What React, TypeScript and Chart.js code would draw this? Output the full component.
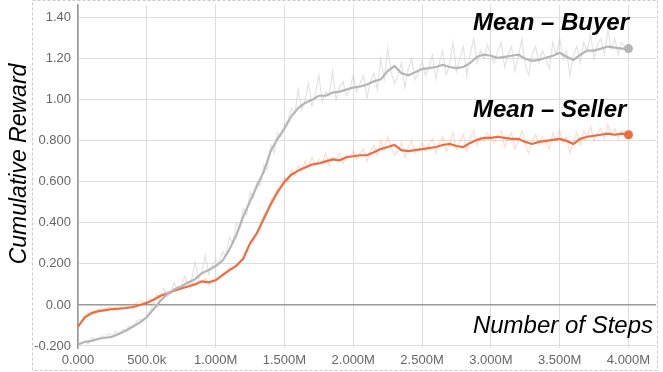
import React, { useEffect, useRef } from "react";
import { Chart, registerables } from "chart.js";

Chart.register(...registerables);

// x spacing of the recorded points (training steps)
const SMOOTH_STEP = 50000;
const RAW_STEP = 25000;

// smoothed means, one value every 50k steps from 0 to 4.0M
const BUYER_SMOOTH = [
  -0.193, -0.18, -0.175, -0.165, -0.16, -0.155, -0.14, -0.125, -0.105, -0.085,
  -0.06, -0.02, 0.02, 0.055, 0.075, 0.09, 0.11, 0.125, 0.155, 0.17,
  0.19, 0.215, 0.27, 0.34, 0.43, 0.505, 0.58, 0.65, 0.75, 0.81,
  0.86, 0.92, 0.96, 0.985, 1.0, 1.02, 1.02, 1.035, 1.04, 1.05,
  1.06, 1.065, 1.075, 1.09, 1.1, 1.14, 1.165, 1.13, 1.12, 1.135,
  1.15, 1.155, 1.16, 1.17, 1.16, 1.155, 1.16, 1.18, 1.21, 1.22,
  1.215, 1.205, 1.21, 1.215, 1.22, 1.2, 1.19, 1.195, 1.205, 1.215,
  1.23, 1.21, 1.195, 1.22, 1.24, 1.24, 1.25, 1.26, 1.255, 1.25,
  1.25,
];
const SELLER_SMOOTH = [
  -0.105, -0.06, -0.04, -0.03, -0.025, -0.02, -0.018, -0.015, -0.01, 0.0,
  0.01, 0.025, 0.045, 0.055, 0.07, 0.08, 0.09, 0.1, 0.115, 0.11,
  0.12, 0.145, 0.17, 0.19, 0.225, 0.3, 0.35, 0.42, 0.49, 0.55,
  0.6, 0.635, 0.655, 0.67, 0.685, 0.69, 0.7, 0.71, 0.705, 0.72,
  0.725, 0.73, 0.73, 0.745, 0.76, 0.77, 0.78, 0.755, 0.75, 0.755,
  0.76, 0.765, 0.77, 0.78, 0.785, 0.775, 0.77, 0.79, 0.805, 0.815,
  0.815, 0.82, 0.815, 0.81, 0.81, 0.795, 0.785, 0.795, 0.8, 0.805,
  0.81, 0.8, 0.785, 0.81, 0.82, 0.825, 0.83, 0.835, 0.83, 0.835,
  0.83,
];

// raw (unsmoothed) values, one every 25k steps from 0 to 4.0M
const BUYER_RAW = [
  -0.2, -0.19, -0.18, -0.19, -0.16, -0.17, -0.17, -0.15, -0.16, -0.14, -0.15, -0.13, -0.14, -0.12, -0.12, -0.1, -0.11, -0.08, -0.07, -0.08, -0.05,
  -0.03, 0.01, -0.01, 0.05, 0.08, 0.04, 0.06, 0.11, 0.07, 0.09, 0.14, 0.1, 0.12, 0.21, 0.13, 0.16, 0.24, 0.15, 0.19, 0.22,
  0.2, 0.26, 0.24, 0.33, 0.3, 0.4, 0.37, 0.47, 0.44, 0.55, 0.52, 0.6, 0.58, 0.68, 0.66, 0.78, 0.74, 0.84, 0.82, 0.88,
  0.9, 0.96, 0.93, 1.05, 0.95, 1.0, 1.08, 0.97, 1.03, 1.12, 0.99, 1.04, 1.02, 1.14, 1.0, 1.06, 1.09, 1.02, 1.05, 1.12,
  1.04, 1.08, 1.12, 1.01, 1.09, 1.13, 1.05, 1.2, 1.1, 1.25, 1.14, 1.08, 1.12, 1.18, 1.06, 1.15, 1.2, 1.1, 1.13, 1.19,
  1.12, 1.16, 1.22, 1.1, 1.18, 1.24, 1.12, 1.17, 1.28, 1.14, 1.2, 1.26, 1.12, 1.22, 1.3, 1.18, 1.24, 1.2, 1.27, 1.22,
  1.18, 1.24, 1.28, 1.16, 1.22, 1.26, 1.14, 1.21, 1.3, 1.17, 1.12, 1.22, 1.26, 1.18, 1.24, 1.2, 1.15, 1.28, 1.22, 1.3,
  1.2, 1.24, 1.12, 1.22, 1.26, 1.18, 1.28, 1.24, 1.32, 1.2, 1.27, 1.3, 1.22, 1.34, 1.25, 1.3, 1.22, 1.28, 1.26, 1.25,
];
const SELLER_RAW = [
  -0.12, -0.08, -0.05, -0.04, -0.03, -0.03, -0.02, -0.02, -0.02, -0.01, -0.02, -0.01, -0.01, 0.0, -0.01, 0.0, 0.0, 0.01, 0.02, 0.01, 0.02,
  0.03, 0.02, 0.05, 0.04, 0.06, 0.07, 0.06, 0.08, 0.09, 0.08, 0.1, 0.09, 0.11, 0.1, 0.12, 0.11, 0.13, 0.1, 0.12, 0.13,
  0.13, 0.15, 0.16, 0.18, 0.17, 0.2, 0.21, 0.23, 0.26, 0.3, 0.31, 0.36, 0.38, 0.44, 0.46, 0.51, 0.53, 0.57, 0.58, 0.62,
  0.6, 0.66, 0.63, 0.68, 0.65, 0.7, 0.67, 0.72, 0.68, 0.71, 0.69, 0.74, 0.68, 0.72, 0.71, 0.74, 0.69, 0.73, 0.72, 0.75,
  0.71, 0.74, 0.76, 0.7, 0.75, 0.78, 0.73, 0.8, 0.76, 0.82, 0.77, 0.73, 0.75, 0.79, 0.72, 0.77, 0.8, 0.74, 0.76, 0.79,
  0.75, 0.78, 0.81, 0.74, 0.79, 0.82, 0.75, 0.78, 0.84, 0.76, 0.8, 0.83, 0.75, 0.81, 0.85, 0.78, 0.82, 0.8, 0.84, 0.81,
  0.79, 0.83, 0.85, 0.77, 0.81, 0.84, 0.76, 0.8, 0.85, 0.78, 0.74, 0.8, 0.83, 0.78, 0.82, 0.8, 0.76, 0.84, 0.8, 0.85,
  0.79, 0.82, 0.74, 0.8, 0.84, 0.78, 0.85, 0.82, 0.87, 0.8, 0.84, 0.86, 0.81, 0.88, 0.83, 0.86, 0.81, 0.85, 0.84, 0.83,
];

// axis ticks
const X_TICKS = [0, 500000, 1000000, 1500000, 2000000, 2500000, 3000000, 3500000, 4000000];
const X_TICK_LABELS = ["0.000", "500.0k", "1.000M", "1.500M", "2.000M", "2.500M", "3.000M", "3.500M", "4.000M"];
const Y_TICKS = [-0.2, 0, 0.2, 0.4, 0.6, 0.8, 1.0, 1.2, 1.4];
const Y_TICK_LABELS = ["-0.200", "0.00", "0.200", "0.400", "0.600", "0.800", "1.00", "1.20", "1.40"];

const TITLE_Y = "Cumulative Reward";
const TITLE_X = "Number of Steps";
const LABEL_BUYER = "Mean \u2013 Buyer";
const LABEL_SELLER = "Mean \u2013 Seller";

const ORANGE = "#ef6c3c";
const ORANGE_LIGHT = "rgba(245, 140, 100, 0.3)";
const GRAY = "#b5b5b5";
const GRAY_LIGHT = "rgba(200, 200, 200, 0.5)";

const FONT = "'Liberation Sans', Arial, sans-serif";

const toPoints = (vals: number[], step: number) => vals.map((v, i) => ({ x: i * step, y: v }));

const annotate = {
  id: "annotate",
  afterDraw(chart: any) {
    const ctx = chart.ctx as CanvasRenderingContext2D;
    ctx.save();
    // dashed frame
    ctx.strokeStyle = "#c8c8c8";
    ctx.lineWidth = 1;
    ctx.setLineDash([3, 2]);
    ctx.strokeRect(32.5, 0.5, 625, 370);
    ctx.setLineDash([]);
    // y title
    ctx.fillStyle = "#000";
    ctx.font = `italic 23px ${FONT}`;
    ctx.textAlign = "center";
    ctx.textBaseline = "alphabetic";
    ctx.translate(26, 164);
    ctx.rotate(-Math.PI / 2);
    ctx.fillText(TITLE_Y, 0, 0);
    ctx.setTransform(1, 0, 0, 1, 0, 0);
    // x title
    ctx.font = `italic 24px ${FONT}`;
    ctx.textAlign = "right";
    ctx.fillText(TITLE_X, 653, 333);
    // series labels
    ctx.font = `italic bold 24px ${FONT}`;
    ctx.textAlign = "left";
    ctx.fillText(LABEL_BUYER, 473, 30);
    ctx.fillText(LABEL_SELLER, 473, 117);
    ctx.restore();
  },
};

export default function App() {
  const ref = useRef<HTMLCanvasElement | null>(null);

  useEffect(() => {
    if (!ref.current) return;
    const lastB = BUYER_SMOOTH.length - 1;
    const lastS = SELLER_SMOOTH.length - 1;
    const chart = new Chart(ref.current, {
      type: "line",
      data: {
        datasets: [
          {
            data: toPoints(BUYER_SMOOTH, SMOOTH_STEP),
            borderColor: GRAY,
            backgroundColor: GRAY,
            borderWidth: 2.2,
            pointRadius: (c: any) => (c.dataIndex === lastB ? 4.5 : 0),
            pointBorderWidth: 0,
            tension: 0,
            order: 0,
          },
          {
            data: toPoints(SELLER_SMOOTH, SMOOTH_STEP),
            borderColor: ORANGE,
            backgroundColor: ORANGE,
            borderWidth: 2.2,
            pointRadius: (c: any) => (c.dataIndex === lastS ? 4.5 : 0),
            pointBorderWidth: 0,
            tension: 0,
            order: 0,
          },
          {
            data: toPoints(BUYER_RAW, RAW_STEP),
            borderColor: GRAY_LIGHT,
            borderWidth: 1.2,
            pointRadius: 0,
            tension: 0,
            order: 1,
          },
          {
            data: toPoints(SELLER_RAW, RAW_STEP),
            borderColor: ORANGE_LIGHT,
            borderWidth: 1.2,
            pointRadius: 0,
            tension: 0,
            order: 1,
          },
        ],
      },
      options: {
        responsive: false,
        animation: false,
        layout: { padding: { left: 0, right: 7, top: 1, bottom: 0 } },
        plugins: { legend: { display: false }, tooltip: { enabled: false } },
        scales: {
          x: {
            type: "linear",
            min: 0,
            max: 4200000,
            afterBuildTicks: (s: any) => {
              s.ticks = X_TICKS.map((v) => ({ value: v }));
            },
            afterFit: (s: any) => {
              s.height = 24;
              s.paddingLeft = 0;
              s.paddingRight = 0;
            },
            grid: { color: "#dddddd", lineWidth: 1, drawTicks: false },
            border: { display: false },
            ticks: {
              padding: 5,
              maxRotation: 0,
              autoSkip: false,
              color: "#666",
              font: { family: FONT, size: 13 },
              callback: (v: any) => {
                const i = X_TICKS.indexOf(Number(v));
                return i >= 0 ? X_TICK_LABELS[i] : "";
              },
            },
          },
          y: {
            min: -0.21,
            max: 1.465,
            afterBuildTicks: (s: any) => {
              s.ticks = Y_TICKS.map((v) => ({ value: v }));
            },
            afterFit: (s: any) => {
              s.width = 78;
              s.paddingTop = 0;
              s.paddingBottom = 0;
            },
            grid: {
              color: (c: any) => (c.tick && c.tick.value === 0 ? "#9a9a9a" : "#dddddd"),
              lineWidth: (c: any) => (c.tick && c.tick.value === 0 ? 1.6 : 1),
              drawTicks: false,
            },
            border: { display: true, color: "#9a9a9a", width: 1.6 },
            ticks: {
              padding: 7,
              autoSkip: false,
              color: "#666",
              font: { family: FONT, size: 13 },
              callback: (v: any) => {
                const i = Y_TICKS.findIndex((t) => Math.abs(t - Number(v)) < 1e-9);
                return i >= 0 ? Y_TICK_LABELS[i] : "";
              },
            },
          },
        },
      },
      plugins: [annotate],
    } as any);
    return () => chart.destroy();
  }, []);

  return (
    <div style={{ position: "fixed", left: 0, top: 0, width: 663, height: 372, background: "#fff" }}>
      <canvas ref={ref} width={663} height={372} style={{ display: "block" }} />
    </div>
  );
}
